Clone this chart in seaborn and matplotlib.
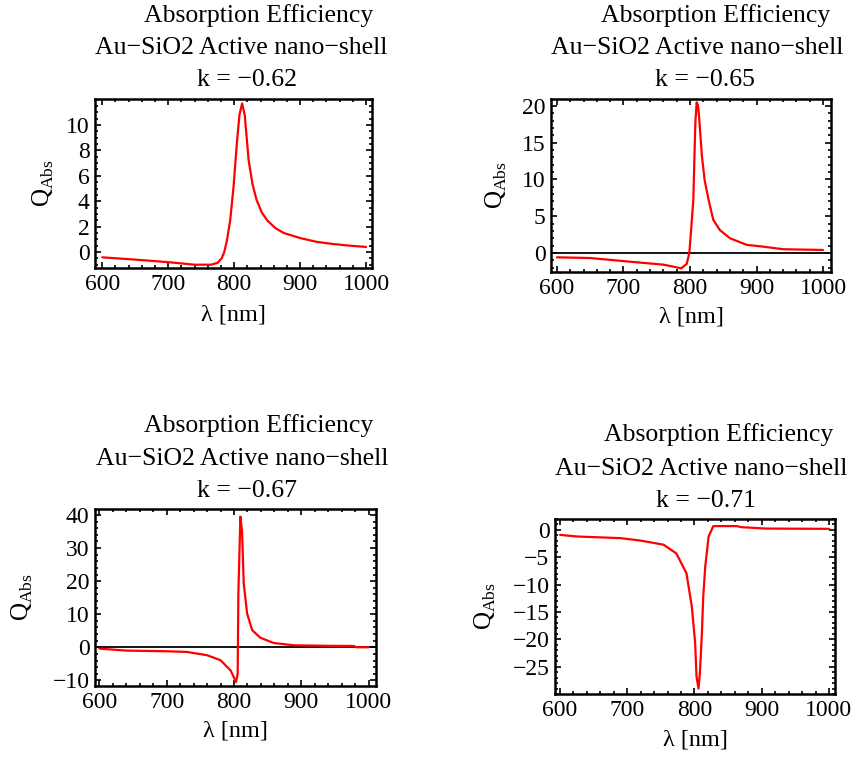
import numpy as np
import pandas as pd
import matplotlib
matplotlib.use("Agg")
import matplotlib.pyplot as plt
import seaborn as sns
from matplotlib.ticker import MultipleLocator

sns.set_theme(style="white")
plt.rcParams['font.family'] = ['Liberation Serif', 'DejaVu Serif']
plt.rcParams['mathtext.fontset'] = 'custom'
plt.rcParams['mathtext.rm'] = 'Liberation Serif'
plt.rcParams['text.color'] = 'black'
plt.rcParams['axes.labelcolor'] = 'black'
plt.rcParams['xtick.color'] = 'black'
plt.rcParams['ytick.color'] = 'black'

# ---- data ----
k_values = ["-0.62", "-0.65", "-0.67", "-0.71"]

wl_062 = [600, 650, 700, 740, 765, 775, 781, 785, 789, 794, 799, 804, 808, 812, 816,
          822, 828, 834, 842, 850, 862, 875, 900, 925, 950, 975, 1000]
q_062 = [-0.42, -0.6, -0.8, -1.0, -1.0, -0.85, -0.5, 0.0, 0.9, 2.5, 5.1, 8.5, 10.8, 11.7, 10.8,
         7.2, 5.3, 4.1, 3.1, 2.5, 1.9, 1.5, 1.1, 0.8, 0.63, 0.5, 0.4]

wl_065 = [600, 650, 710, 760, 787, 795, 799, 802, 805, 808, 810, 812, 814, 818, 822,
          828, 835, 845, 860, 885, 910, 940, 970, 1000]
q_065 = [-0.6, -0.7, -1.2, -1.6, -2.1, -1.5, 0.0, 3.5, 7.2, 17.6, 20.5, 20.1, 18.1, 13.1, 9.9,
         7.2, 4.5, 3.1, 2.0, 1.1, 0.85, 0.5, 0.45, 0.4]

wl_067 = [600, 640, 700, 730, 760, 780, 795, 803, 805.5, 806.5, 809.5, 812, 814.5, 819.5,
          827, 839, 859, 889, 940, 978, 982, 1000]
q_067 = [-0.4, -1.0, -1.2, -1.4, -2.4, -3.9, -7.0, -10.5, -8.0, 16.3, 39.5, 34.9, 19.3, 10.2,
         5.2, 2.9, 1.3, 0.6, 0.45, 0.4, 0.0, 0.0]

wl_071 = [600, 625, 690, 720, 754, 773, 788, 796, 801, 803, 806, 808, 811, 813, 816,
          821, 828, 863, 870, 907, 1000]
q_071 = [-0.9, -1.2, -1.5, -1.95, -2.7, -4.3, -7.9, -14, -20.7, -26.8, -29.0, -26.2, -18.9, -12.2, -6.7,
         -1.2, 0.7, 0.7, 0.5, 0.25, 0.2]

x_ticks = [600, 700, 800, 900, 1000]
y_ticks_062 = [0, 2, 4, 6, 8, 10]
y_ticks_065 = [0, 5, 10, 15, 20]
y_ticks_067 = [-10, 0, 10, 20, 30, 40]
y_ticks_071 = [-25, -20, -15, -10, -5, 0]

title_line1 = "Absorption Efficiency"
title_line2 = "Au\u2212SiO2 Active nano\u2212shell"
x_label = "\u03bb [nm]"
y_label = r"$\mathrm{Q}_{\mathrm{Abs}}$"

# ---- layout ----
W, H = 857, 760
fig = plt.figure(figsize=(W / 100, H / 100), dpi=100)

def px_axes(left, top, right, bottom):
    return fig.add_axes([left / W, 1 - bottom / H, (right - left) / W, (bottom - top) / H])

panels = [
    dict(box=(95, 99, 372, 268), xlim=(589, 1009), ylim=(-1.26, 12.05), wl=wl_062, q=q_062,
         yt=y_ticks_062, ymin=0.5, zero=False, k=k_values[0],
         tc=[(259, 16), (241, 48), (247, 80)], ylx=43, xly=315),
    dict(box=(551, 99, 831, 272), xlim=(591, 1012), ylim=(-2.6, 20.95), wl=wl_065, q=q_065,
         yt=y_ticks_065, ymin=1, zero=True, k=k_values[1],
         tc=[(716, 16), (697, 48), (705, 80)], ylx=496, xly=317),
    dict(box=(95, 509, 376, 686), xlim=(593.5, 1011), ylim=(-11.7, 41.8), wl=wl_067, q=q_067,
         yt=y_ticks_067, ymin=2, zero=True, k=k_values[2],
         tc=[(259, 426), (242, 459), (247, 491)], ylx=22, xly=731),
    dict(box=(555, 519, 835, 694), xlim=(592.5, 1009), ylim=(-30, 2.0), wl=wl_071, q=q_071,
         yt=y_ticks_071, ymin=1, zero=False, k=k_values[3],
         tc=[(719, 435), (701, 469), (706, 501)], ylx=485, xly=740),
]

FS = 17
FT = 18.5
for p in panels:
    ax = px_axes(*p["box"])
    df = pd.DataFrame({"wl": p["wl"], "q": p["q"]})
    if p["zero"]:
        ax.axhline(0, color="black", lw=1.3, zorder=1)
    sns.lineplot(data=df, x="wl", y="q", ax=ax, color="#ff0000", lw=1.6, zorder=3)
    ax.set_xlim(*p["xlim"])
    ax.set_ylim(*p["ylim"])
    ax.set_xticks(x_ticks)
    ax.set_yticks(p["yt"])
    ax.xaxis.set_minor_locator(MultipleLocator(20))
    ax.yaxis.set_minor_locator(MultipleLocator(p["ymin"]))
    ax.tick_params(which="both", direction="in", top=True, right=True, bottom=True, left=True,
                   labelsize=FS, width=1.2, color="black", labelcolor="black", pad=4)
    ax.tick_params(which="major", length=4.5)
    ax.tick_params(which="minor", length=2.5)
    for s in ax.spines.values():
        s.set_color("black")
        s.set_linewidth(1.8)
    ax.set_xlabel("")
    ax.set_ylabel("")
    ax.grid(False)
    fig.text(p["ylx"] / W, 1 - ((p["box"][1] + p["box"][3]) / 2) / H, y_label,
             rotation=90, ha="center", va="center", fontsize=FS + 1, color="black")
    fig.text(((p["box"][0] + p["box"][2]) / 2) / W, 1 - p["xly"] / H, x_label,
             ha="center", va="center", fontsize=FS + 0.5, color="black")
    lines = [title_line1, title_line2, "k = \u2212" + p["k"][1:]]
    for (cx, cy), txt in zip(p["tc"], lines):
        fig.text(cx / W, 1 - cy / H, txt, ha="center", va="center", fontsize=FT, color="black")

fig.savefig("out.png", dpi=100, facecolor="white")
